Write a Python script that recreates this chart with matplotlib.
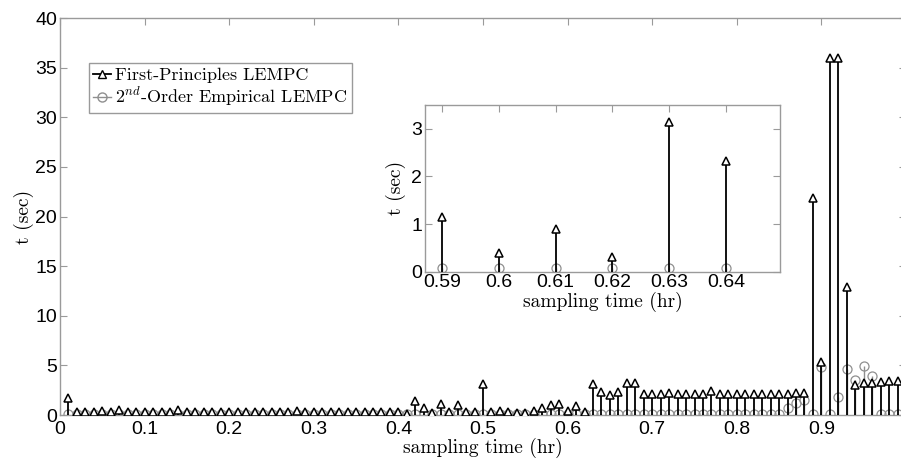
import numpy as np
import matplotlib
matplotlib.use("Agg")
import matplotlib.pyplot as plt
from matplotlib.lines import Line2D

plt.rcParams['mathtext.fontset'] = 'cm'

# sampling instants (hr)
sampling_time = np.arange(1, 101) / 100.0

# computation time, First-Principles LEMPC (sec)
first_principles = [
    1.7, 0.3, 0.3, 0.3, 0.45, 0.35, 0.5, 0.35, 0.35, 0.35,      # 0.01-0.10
    0.35, 0.35, 0.35, 0.5, 0.35, 0.35, 0.35, 0.35, 0.35, 0.35,   # 0.11-0.20
    0.35, 0.35, 0.35, 0.35, 0.35, 0.35, 0.35, 0.45, 0.35, 0.35,  # 0.21-0.30
    0.35, 0.35, 0.35, 0.35, 0.35, 0.35, 0.35, 0.35, 0.35, 0.35,  # 0.31-0.40
    0.15, 1.4, 0.7, 0.2, 1.1, 0.35, 1.0, 0.35, 0.35, 3.1,        # 0.41-0.50
    0.35, 0.4, 0.3, 0.2, 0.2, 0.45, 0.7, 1.0, 1.15, 0.4,         # 0.51-0.60
    0.89, 0.3, 3.14, 2.32, 2.0, 2.3, 3.2, 3.2, 2.15, 2.15,       # 0.61-0.70
    2.15, 2.2, 2.15, 2.15, 2.15, 2.15, 2.4, 2.15, 2.15, 2.15,    # 0.71-0.80
    2.15, 2.15, 2.15, 2.15, 2.15, 2.1, 2.2, 2.2, 21.9, 5.3,      # 0.81-0.90
    36.0, 36.0, 12.9, 3.0, 3.2, 3.2, 3.3, 3.4, 3.4, 3.4,         # 0.91-1.00
]

# computation time, 2nd-order empirical LEMPC (sec)
empirical = [0.08] * 85 + [0.7, 1.2, 1.5, 0.08, 4.8, 0.08, 1.8, 4.6, 3.5,
                           4.9, 3.9, 0.08, 0.08, 0.08, 0.08]

inset_range = (0.59, 0.64)
main_xticks = [0, 0.1, 0.2, 0.3, 0.4, 0.5, 0.6, 0.7, 0.8, 0.9]
main_xticklabels = ['0', '0.1', '0.2', '0.3', '0.4', '0.5', '0.6', '0.7', '0.8', '0.9']
main_yticks = [0, 5, 10, 15, 20, 25, 30, 35, 40]
inset_xticks = [0.59, 0.6, 0.61, 0.62, 0.63, 0.64]
inset_xticklabels = ['0.59', '0.6', '0.61', '0.62', '0.63', '0.64']
inset_yticks = [0, 1, 2, 3]

label_fp = 'First-Principles LEMPC'
label_emp = r'2$^{nd}$-Order Empirical LEMPC'

GRAY = '#8f8f8f'
SPINE = '#9a9a9a'
TICKFONT = 'Liberation Sans'
SERIF = 'cmr10'

fig = plt.figure(figsize=(9.01, 4.59), dpi=100)


def draw(ax, x, fp, emp, msize):
    ax.vlines(x, 0, emp, colors=GRAY, linewidth=1.0, zorder=2)
    ax.plot(x, emp, linestyle='none', marker='o', markersize=msize + 1,
            markerfacecolor='none', markeredgecolor=GRAY, markeredgewidth=0.9, zorder=3)
    ax.vlines(x, 0, fp, colors='black', linewidth=1.3, zorder=4)
    ax.plot(x, fp, linestyle='none', marker='^', markersize=msize,
            markerfacecolor='white', markeredgecolor='black', markeredgewidth=1.1, zorder=5)


def style(ax):
    for s in ax.spines.values():
        s.set_color(SPINE)
        s.set_linewidth(1.0)
    ax.tick_params(direction='in', top=True, right=True, length=5,
                   color=SPINE, labelsize=14, pad=2)
    ax.tick_params(axis='x', pad=4)
    for lab in ax.get_xticklabels() + ax.get_yticklabels():
        lab.set_family(TICKFONT)


# main axes
ax = fig.add_axes([60 / 901, 1 - 415 / 459, 846 / 901, 397 / 459])
x = np.asarray(sampling_time)
draw(ax, x, first_principles, empirical, 5.5)
ax.set_xlim(0, 1.0)
ax.set_ylim(0, 40)
ax.set_xticks(main_xticks)
ax.set_xticklabels(main_xticklabels)
ax.set_yticks(main_yticks)
style(ax)
ax.set_xlabel('sampling time (hr)', family=SERIF, fontsize=14, labelpad=0.5)
ax.set_ylabel('t (sec)', family=SERIF, fontsize=14, labelpad=1)

handles = [
    Line2D([], [], color='black', linewidth=1.3, marker='^', markersize=5.5,
           markerfacecolor='white', markeredgecolor='black'),
    Line2D([], [], color=GRAY, linewidth=1.0, marker='o', markersize=6.5,
           markerfacecolor='none', markeredgecolor=GRAY),
]
leg = ax.legend(handles, [label_fp, label_emp], loc='upper left',
                bbox_to_anchor=(0.034, 0.886), borderaxespad=0,
                prop={'family': SERIF, 'size': 13}, handlelength=1.0,
                handletextpad=0.2, borderpad=0.25, labelspacing=0.1,
                fancybox=False, framealpha=1, edgecolor=SPINE, numpoints=1)
leg.get_frame().set_linewidth(1.0)

# inset axes
ins = fig.add_axes([425 / 901, 1 - 271.7 / 459, 355 / 901, 166.7 / 459])
mask = (x >= inset_range[0] - 1e-9) & (x <= inset_range[1] + 1e-9)
draw(ins, x[mask], np.asarray(first_principles)[mask], np.asarray(empirical)[mask], 5.5)
ins.set_xlim(0.587, 0.6495)
ins.set_ylim(0, 3.5)
ins.set_xticks(inset_xticks)
ins.set_xticklabels(inset_xticklabels)
ins.set_yticks(inset_yticks)
style(ins)
ins.tick_params(axis='x', pad=2)
ins.set_xlabel('sampling time (hr)', family=SERIF, fontsize=14, labelpad=0)
ins.set_ylabel('t (sec)', family=SERIF, fontsize=14, labelpad=4)

fig.savefig('out.png', dpi=100)
